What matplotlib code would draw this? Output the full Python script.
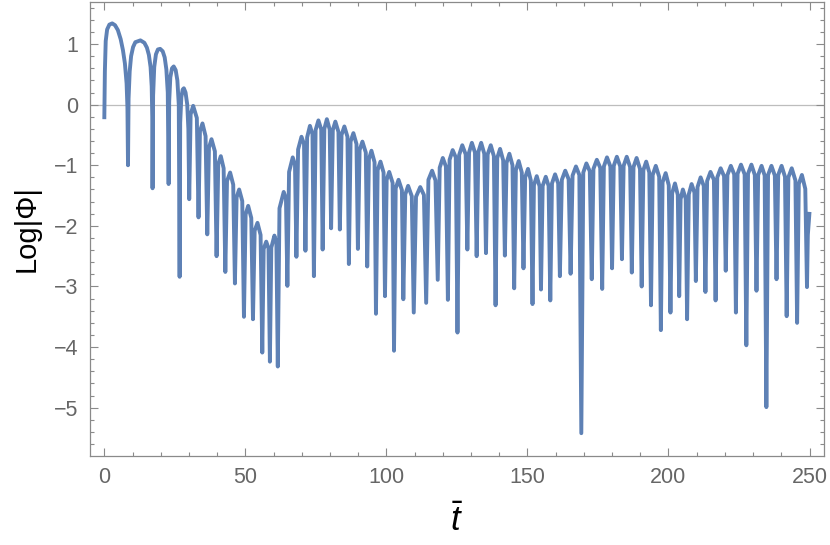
import matplotlib
matplotlib.use("Agg")
import matplotlib.pyplot as plt
from matplotlib.ticker import MultipleLocator

# Log|Phi| curve, vertices (dips, shoulders, peaks)
t_vals = [
    0.0, 0.2, 0.5, 1.0, 1.8, 2.8, 3.8, 4.8, 5.8, 6.6, 7.3, 7.9, 8.2,
    8.4, 8.6, 9.0, 9.5, 10.2, 11.0, 12.8, 14.2, 15.1, 15.8, 16.4, 16.8, 17.0,
    17.1, 17.3, 17.7, 18.3, 19.0, 19.8, 20.7, 21.4, 22.0, 22.5,
    22.8, 23.0, 23.4, 24.0, 24.6, 25.3, 25.9, 26.4,
    26.7, 26.9, 27.3, 27.8, 28.2, 28.8, 29.4, 29.8,
    30.1, 30.6, 31.5, 32.8,
    33.4, 33.9, 34.8, 35.9,
    36.5, 37.1, 38.0, 39.2,
    39.8, 40.4, 41.3, 42.3,
    42.9, 43.5, 44.6, 45.7,
    46.3, 46.9, 47.8, 48.9,
    49.5, 50.1, 51.0, 52.1,
    52.7, 53.3, 54.3, 55.4,
    56.0, 56.5, 57.4, 58.2,
    58.7, 59.2, 60.3, 61.0,
    61.5, 62.1, 63.6, 64.4,
    64.9, 65.5, 66.8, 67.6,
    68.1, 68.7, 69.9, 70.8,
    71.3, 71.9, 72.9, 73.8,
    74.3, 74.9, 75.9, 76.9,
    77.4, 78.0, 78.9, 79.9,
    80.4, 81.0, 81.9, 83.0,
    83.5, 84.1, 85.1, 86.2,
    86.7, 87.3, 88.3, 89.4,
    89.9, 90.5, 91.5, 92.7,
    93.2, 93.8, 94.7, 95.8,
    96.3, 96.9, 97.9, 99.0,
    99.5, 100.1, 101.0, 102.2,
    102.7, 103.3, 104.3, 105.5,
    106.0, 106.7, 107.7, 109.0,
    109.7, 110.5, 112.0, 113.3,
    114.1, 114.9, 116.2, 117.4,
    118.2, 118.9, 120.0, 121.1,
    121.8, 122.4, 123.5, 124.6,
    125.2, 125.8, 126.9, 128.1,
    128.7, 129.3, 130.3, 131.4,
    132.0, 132.6, 133.6, 134.7,
    135.3, 135.9, 137.0, 138.1,
    138.7, 139.3, 140.3, 141.4,
    142.0, 142.6, 143.6, 144.7,
    145.3, 145.9, 146.9, 148.0,
    148.6, 149.2, 150.2, 151.2,
    151.8, 152.3, 153.3, 154.3,
    154.8, 155.4, 156.5, 157.5,
    158.1, 158.7, 159.8, 160.9,
    161.5, 162.2, 163.4, 164.6,
    165.3, 166.0, 167.2, 168.4,
    169.1, 169.8, 170.9, 172.1,
    172.8, 173.4, 174.6, 175.8,
    176.5, 177.1, 178.2, 179.4,
    180.0, 180.6, 181.7, 182.9,
    183.5, 184.1, 185.2, 186.4,
    187.0, 187.6, 188.7, 189.9,
    190.5, 191.1, 192.1, 193.2,
    193.8, 194.4, 195.5, 196.7,
    197.3, 197.9, 199.0, 200.1,
    200.7, 201.3, 202.3, 203.3,
    203.8, 204.3, 205.1, 206.1,
    206.6, 207.2, 208.2, 209.2,
    209.7, 210.3, 211.4, 212.5,
    213.1, 213.7, 214.9, 216.1,
    216.7, 217.3, 218.5, 219.7,
    220.3, 220.9, 222.1, 223.3,
    223.9, 224.5, 225.7, 227.0,
    227.6, 228.2, 229.4, 230.6,
    231.2, 231.8, 233.0, 234.1,
    234.7, 235.3, 236.5, 237.7,
    238.3, 238.9, 240.1, 241.3,
    241.9, 242.5, 243.7, 245.0,
    245.6, 246.2, 247.3, 248.5,
    249.1, 249.4, 250.0,
]
log_phi = [
    -0.24, 0.55, 1.05, 1.24, 1.32, 1.34, 1.31, 1.23, 1.08, 0.90, 0.68, 0.35, -0.05,
    -1.00, 0.10, 0.55, 0.80, 0.95, 1.03, 1.06, 1.02, 0.94, 0.82, 0.62, 0.30, -0.20,
    -1.38, 0.15, 0.62, 0.83, 0.91, 0.92, 0.88, 0.78, 0.58, 0.20,
    -1.31, 0.05, 0.45, 0.60, 0.63, 0.57, 0.40, 0.00,
    -2.84, -0.30, 0.12, 0.25, 0.27, 0.20, 0.00, -0.40,
    -1.56, -0.16, -0.02, -0.22,
    -1.86, -0.44, -0.31, -0.52,
    -2.14, -0.71, -0.57, -0.77,
    -2.50, -0.98, -0.85, -1.05,
    -2.76, -1.26, -1.12, -1.32,
    -2.95, -1.53, -1.40, -1.59,
    -3.50, -1.81, -1.67, -1.87,
    -3.54, -2.08, -1.95, -2.15,
    -4.09, -2.38, -2.26, -2.37,
    -4.24, -2.36, -2.16, -2.27,
    -4.32, -1.71, -1.44, -1.55,
    -2.99, -1.11, -0.87, -0.99,
    -2.51, -0.74, -0.53, -0.65,
    -2.41, -0.54, -0.35, -0.49,
    -2.83, -0.42, -0.26, -0.41,
    -2.39, -0.40, -0.24, -0.41,
    -2.04, -0.42, -0.28, -0.45,
    -2.06, -0.50, -0.36, -0.53,
    -2.63, -0.61, -0.47, -0.65,
    -2.38, -0.75, -0.61, -0.79,
    -2.67, -0.90, -0.76, -0.95,
    -3.45, -1.08, -0.94, -1.12,
    -3.16, -1.24, -1.11, -1.29,
    -4.06, -1.38, -1.24, -1.41,
    -3.21, -1.48, -1.34, -1.51,
    -3.43, -1.52, -1.36, -1.49,
    -3.27, -1.24, -1.09, -1.25,
    -2.89, -1.04, -0.88, -1.02,
    -3.22, -0.91, -0.75, -0.87,
    -3.76, -0.83, -0.67, -0.82,
    -2.39, -0.79, -0.63, -0.79,
    -2.50, -0.78, -0.63, -0.81,
    -2.45, -0.82, -0.67, -0.85,
    -3.31, -0.88, -0.73, -0.92,
    -2.49, -0.96, -0.81, -1.00,
    -3.03, -1.08, -0.93, -1.12,
    -2.70, -1.20, -1.06, -1.25,
    -3.29, -1.33, -1.18, -1.35,
    -3.05, -1.34, -1.19, -1.34,
    -3.23, -1.30, -1.15, -1.30,
    -2.83, -1.24, -1.09, -1.23,
    -2.79, -1.17, -1.02, -1.16,
    -5.42, -1.12, -0.97, -1.10,
    -2.88, -1.06, -0.91, -1.04,
    -3.04, -1.02, -0.87, -1.02,
    -2.70, -1.01, -0.86, -1.02,
    -2.55, -1.01, -0.86, -1.03,
    -2.77, -1.03, -0.88, -1.06,
    -3.00, -1.08, -0.94, -1.12,
    -3.31, -1.16, -1.01, -1.19,
    -3.72, -1.28, -1.13, -1.33,
    -3.43, -1.46, -1.30, -1.49,
    -3.16, -1.56, -1.40, -1.55,
    -3.54, -1.48, -1.31, -1.45,
    -2.91, -1.36, -1.20, -1.34,
    -3.09, -1.26, -1.11, -1.24,
    -3.23, -1.20, -1.05, -1.18,
    -2.74, -1.16, -1.01, -1.15,
    -3.43, -1.14, -0.99, -1.15,
    -3.97, -1.14, -0.99, -1.16,
    -3.07, -1.16, -1.01, -1.17,
    -4.99, -1.16, -1.01, -1.17,
    -2.88, -1.16, -1.01, -1.19,
    -3.49, -1.20, -1.05, -1.25,
    -3.60, -1.31, -1.16, -1.39,
    -3.01, -2.15, -1.77,
]

x_ticks = [0, 50, 100, 150, 200, 250]
y_ticks = [-5, -4, -3, -2, -1, 0, 1]
y_tick_labels = ['\u22125', '\u22124', '\u22123', '\u22122', '\u22121', '0', '1']

plt.rcParams['font.family'] = ['Liberation Sans', 'DejaVu Sans']
plt.rcParams['mathtext.fontset'] = 'custom'
plt.rcParams['mathtext.it'] = 'Liberation Sans:italic'
plt.rcParams['mathtext.rm'] = 'Liberation Sans'

fig = plt.figure(figsize=(8.3, 5.45), dpi=100)
ax = fig.add_axes([0.108, 0.164, 0.885, 0.832])

ax.axhline(0, color='#bdbdbd', lw=0.9, zorder=1)
ax.plot(t_vals, log_phi, color='#5e81b5', lw=2.8, zorder=3,
        solid_joinstyle='round', solid_capstyle='butt')

ax.set_xlim(-5.2, 255.2)
ax.set_ylim(-5.79, 1.69)

ax.set_xticks(x_ticks)
ax.set_yticks(y_ticks)
ax.set_yticklabels(y_tick_labels)
ax.xaxis.set_minor_locator(MultipleLocator(10))
ax.yaxis.set_minor_locator(MultipleLocator(0.2))

frame_col = '#8a8a8a'
for s in ax.spines.values():
    s.set_color(frame_col)
    s.set_linewidth(0.9)
ax.tick_params(which='both', direction='in', top=True, right=True,
               color=frame_col, width=0.8, labelcolor='#666666', labelsize=15.5)
ax.tick_params(which='major', length=5.5, pad=8)
ax.tick_params(which='minor', length=3)

ax.set_ylabel('Log|\u03a6|', fontsize=21, color='black', labelpad=10)
ax.set_xlabel(r'$\bar{t}$', fontsize=25, color='black', labelpad=12)

fig.savefig('out.png', dpi=100)
